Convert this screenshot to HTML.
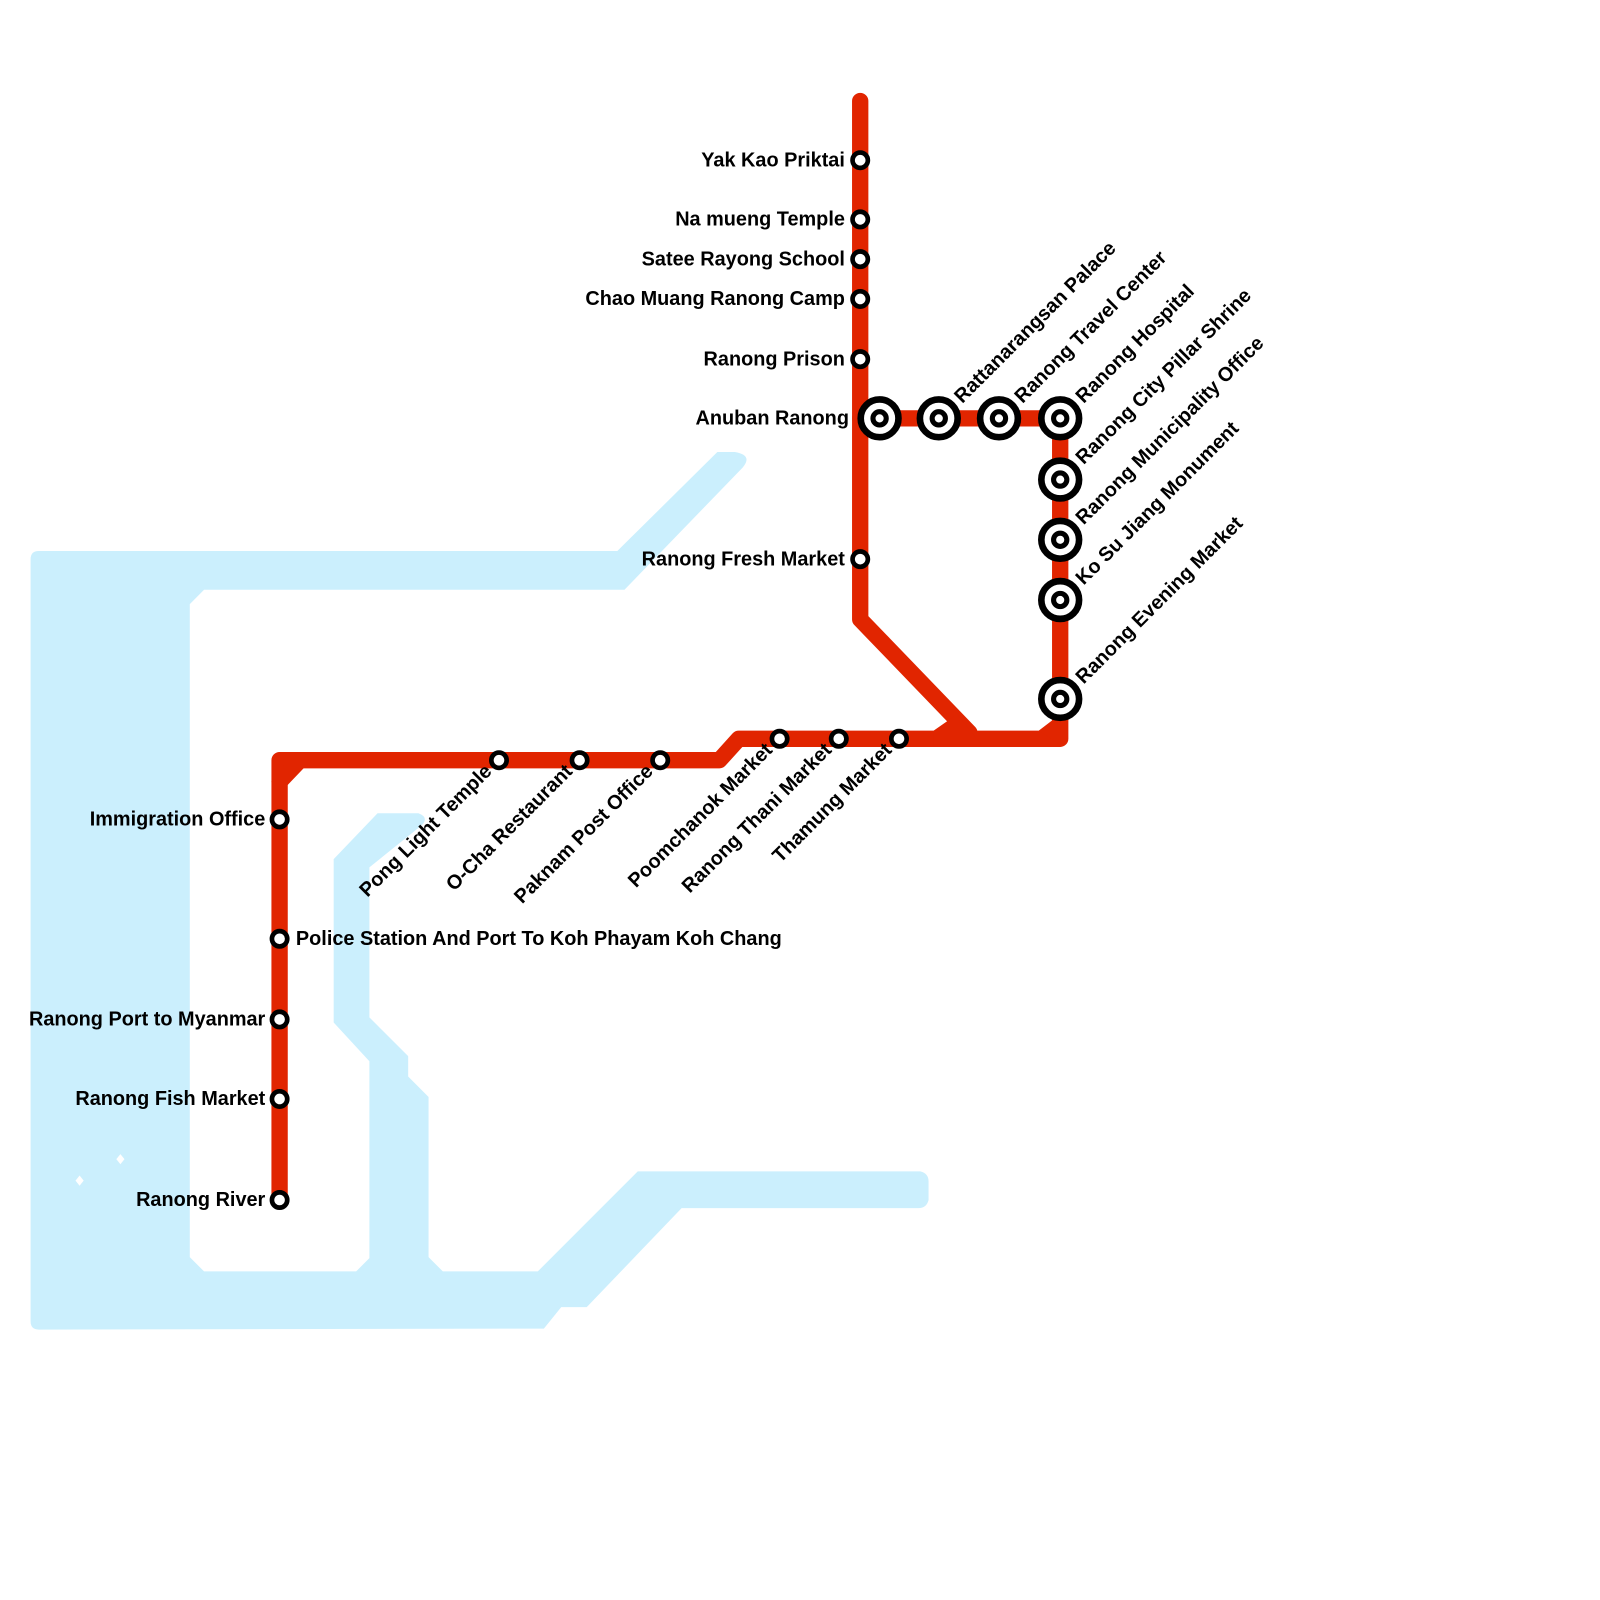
<!DOCTYPE html>
<html><head><meta charset="utf-8"><style>
html,body{margin:0;padding:0;background:#fff;}
svg{display:block;}
text{font-family:"Liberation Sans",Arial,sans-serif;font-weight:bold;font-size:19.5px;fill:#000;}
</style></head><body>
<svg width="1600" height="1600" viewBox="0 0 1568 1568" xmlns="http://www.w3.org/2000/svg">
<path fill="#cbeffd" d="M30,548 Q30,540 38,540 L605,540 L703,443 L720,443 Q738,446 728,458 L612,578 L200,578 L186,592 L186,1232 L200,1246 L349,1246 L362,1233 L362,1040 L327,1002 L327,842 L370,797 L410,797 Q421,801 413,809 L362,850 L362,997 L400,1035 L400,1055 L420,1075 L420,1232 L434,1246 L527,1246 L625,1148 L902,1148 Q910,1150 910,1158 L910,1176 Q908,1184 900,1184 L668,1184 L575,1281 L550,1281 L533,1302 L38,1303 Q30,1303 30,1295 Z"/>
<path fill="#fff" d="M78,1152 L82,1157 L78,1162 L74,1157 Z M118,1131 L122,1136 L118,1141 L114,1136 Z"/>
<g fill="none" stroke="#e12500" stroke-width="16" stroke-linejoin="round" stroke-linecap="round">
<path d="M843,99 L843,607 L950,718"/>
<path d="M274,1176 L274,745 L705,745 L724,724 L1039,724 L1039,410 L843,410"/>
<path d="M274,766 L294,745"/>
</g>
<path fill="#e12500" d="M915,716 L938,700 L962,730 L915,730 Z M1018,716 L1039,700 L1039,730 Z"/>
<g fill="#fff" stroke="#000" stroke-width="4.6">
<circle cx="843" cy="157" r="7.5"/><circle cx="843" cy="215" r="7.5"/><circle cx="843" cy="254" r="7.5"/>
<circle cx="843" cy="293" r="7.5"/><circle cx="843" cy="352" r="7.5"/><circle cx="843" cy="548" r="7.5"/>
<circle cx="764" cy="724" r="7.5"/><circle cx="822" cy="724" r="7.5"/><circle cx="881" cy="724" r="7.5"/>
<circle cx="489" cy="745" r="7.5"/><circle cx="568" cy="745" r="7.5"/><circle cx="647" cy="745" r="7.5"/>
<circle cx="274" cy="803" r="7.5"/><circle cx="274" cy="920" r="7.5"/><circle cx="274" cy="999" r="7.5"/>
<circle cx="274" cy="1077" r="7.5"/><circle cx="274" cy="1176" r="7.5"/>
</g>
<g fill="#fff" stroke="#000">
<g stroke-width="6.5">
<circle cx="862" cy="410" r="18.5"/><circle cx="920" cy="410" r="18.5"/><circle cx="979" cy="410" r="18.5"/>
<circle cx="1039" cy="410" r="18.5"/><circle cx="1039" cy="470" r="18.5"/><circle cx="1039" cy="529" r="18.5"/>
<circle cx="1039" cy="588" r="18.5"/><circle cx="1039" cy="685" r="18.5"/>
</g>
<g stroke-width="5">
<circle cx="862" cy="410" r="6.5"/><circle cx="920" cy="410" r="6.5"/><circle cx="979" cy="410" r="6.5"/>
<circle cx="1039" cy="410" r="6.5"/><circle cx="1039" cy="470" r="6.5"/><circle cx="1039" cy="529" r="6.5"/>
<circle cx="1039" cy="588" r="6.5"/><circle cx="1039" cy="685" r="6.5"/>
</g>
</g>
<g text-anchor="end">
<text x="828" y="163">Yak Kao Priktai</text>
<text x="828" y="221">Na mueng Temple</text>
<text x="828" y="260">Satee Rayong School</text>
<text x="828" y="299">Chao Muang Ranong Camp</text>
<text x="828" y="358">Ranong Prison</text>
<text x="832" y="416">Anuban Ranong</text>
<text x="828" y="554">Ranong Fresh Market</text>
<text x="260" y="809">Immigration Office</text>
<text x="260" y="1005">Ranong Port to Myanmar</text>
<text x="260" y="1083">Ranong Fish Market</text>
<text x="260" y="1182">Ranong River</text>
</g>
<text x="290" y="926">Police Station And Port To Koh Phayam Koh Chang</text>
<g>
<text transform="translate(943,396) rotate(-45)">Rattanarangsan Palace</text>
<text transform="translate(1002,396) rotate(-45)">Ranong Travel Center</text>
<text transform="translate(1062,396) rotate(-45)">Ranong Hospital</text>
<text transform="translate(1062,456) rotate(-45)">Ranong City Pillar Shrine</text>
<text transform="translate(1062,515) rotate(-45)">Ranong Municipality Office</text>
<text transform="translate(1062,574) rotate(-45)">Ko Su Jiang Monument</text>
<text transform="translate(1062,671) rotate(-45)">Ranong Evening Market</text>
</g>
<g text-anchor="end">
<text transform="translate(483,757) rotate(-45)">Pong Light Temple</text>
<text transform="translate(562,757) rotate(-45)">O-Cha Restaurant</text>
<text transform="translate(641,757) rotate(-45)">Paknam Post Office</text>
<text transform="translate(758,736) rotate(-45)">Poomchanok Market</text>
<text transform="translate(816,736) rotate(-45)">Ranong Thani Market</text>
<text transform="translate(875,736) rotate(-45)">Thamung Market</text>
</g>
</svg>
</body></html>
